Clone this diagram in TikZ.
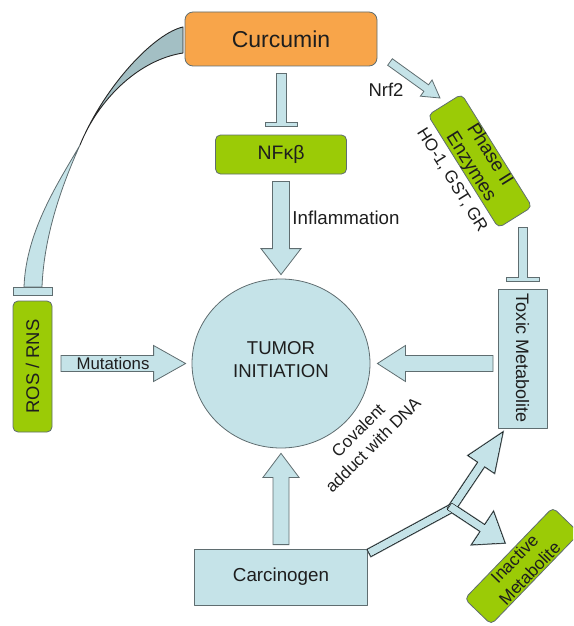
\documentclass[tikz,border=0pt]{standalone}
\usepackage{fontspec}
\setmainfont{Liberation Sans}
\usetikzlibrary{calc}
\usetikzlibrary{shapes.geometric}
\definecolor{curorange}{HTML}{F8A54A}
\definecolor{leafgreen}{HTML}{9BCB06}
\definecolor{paleblue}{HTML}{C5E3E8}
\definecolor{wedgeblue}{HTML}{A3BFC4}
\definecolor{edgegrey}{HTML}{5F6D70}
\definecolor{inkgrey}{HTML}{1E1E1E}
\newcommand{\blockarrow}[6][blockarr]{%
  \path (#3) coordinate (ba-tip) ($(#3)!#5!(#2)$) coordinate (ba-base);
  \draw[#1] ($(#2)!#4!90:(#3)$) -- ($(ba-base)!#4!90:(ba-tip)$)
    -- ($(ba-base)!#6!90:(ba-tip)$) -- (ba-tip) -- ($(ba-base)!#6!-90:(ba-tip)$)
    -- ($(ba-base)!#4!-90:(ba-tip)$) -- ($(#2)!#4!-90:(#3)$) -- cycle;}
\newcommand{\inhibit}[5]{%
  \path (#2) coordinate (ih-end) ($(#2)!#5!(#1)$) coordinate (ih-base);
  \draw[blockarr] ($(#1)!#3!90:(#2)$) -- ($(ih-base)!#3!90:(ih-end)$)
    -- ($(ih-base)!#4!90:(ih-end)$) -- ($(ih-end)!#4!-90:(ih-base)$)
    -- ($(ih-end)!#4!90:(ih-base)$) -- ($(ih-base)!#4!-90:(ih-end)$)
    -- ($(ih-base)!#3!-90:(ih-end)$) -- ($(#1)!#3!-90:(#2)$) -- cycle;}
\newcommand{\yarrow}[1]{%
  \draw[#1] ($(y-s)!4pt!90:(y-j)$) -- ($(y-j)!4pt!-90:(y-s)$)
    -- ($(y-j)!4pt!90:(y-s)$) -- ($(y-s)!4pt!-90:(y-j)$) -- cycle;
  \blockarrow[#1]{y-ua}{y-ue}{4pt}{39pt}{16pt}
  \blockarrow[#1]{y-la}{y-le}{4pt}{27pt}{20pt}}

\begin{document}
\begin{tikzpicture}[line cap=round,line join=round,x=1pt,y=-1pt,
  box/.style={draw=edgegrey,line width=0.8pt,text=inkgrey,align=center,inner sep=0pt},
  greenbox/.style={box,fill=leafgreen,rounded corners=5pt},
  bluebox/.style={box,fill=paleblue},
  blockarr/.style={draw=edgegrey,line width=0.8pt,fill=paleblue,line join=miter},
  yline/.style={draw=edgegrey,line width=1.6pt,line join=miter},
  yfill/.style={fill=paleblue},
  wedge/.style={draw=black!85,line width=0.9pt,fill=wedgeblue},
  txt/.style={text=inkgrey,inner sep=0pt,align=center}]
\path[use as bounding box] (0,0) rectangle (573,626);
\clip (0,0) rectangle (573,626);
\draw[wedge] (183,27) .. controls (155,33) and (105,85) .. (80,145) .. controls (98,100) and (138,60) .. (183,53) -- cycle;
\draw[blockarr,line join=round] (80,145) .. controls (60,180) and (26,230) .. (24,287) -- (42,287) .. controls (44,235) and (62,185) .. (80,145) -- cycle;
\draw[blockarr] (13,287) rectangle (52,295);
\node[box,fill=curorange,rounded corners=8pt,minimum width=192pt,minimum height=54pt,font=\fontsize{23}{27}\selectfont] (cur) at (281,39) {Curcumin};
\node[greenbox,minimum width=131pt,minimum height=39pt,font=\fontsize{19.5}{23}\selectfont] (nfkb) at (281,154.5) {NFκβ};
\node[box,ellipse,fill=paleblue,minimum width=178pt,minimum height=169pt,text depth=8pt,font=\fontsize{18.6}{23}\selectfont] (tumor) at (281,363.5) {TUMOR\\INITIATION};
\node[greenbox,rotate=90,minimum width=131pt,minimum height=39pt,font=\fontsize{18.4}{22}\selectfont] (ros) at (32.5,366.5) {ROS / RNS};
\node[bluebox,rotate=-90,minimum width=139pt,minimum height=49pt,font=\fontsize{18}{22}\selectfont] (toxic) at (522.5,358.5) {Toxic Metabolite};
\node[bluebox,minimum width=173pt,minimum height=56pt,font=\fontsize{18.8}{22}\selectfont] (carc) at (281,577) {Carcinogen};
\coordinate (cn-s) at ([yshift=-7pt]cur.south);
\coordinate (cn-e) at ([yshift=8pt]nfkb.north);
\inhibit{cn-s}{cn-e}{5pt}{16pt}{4pt}
\coordinate (inf-s) at ([yshift=-7pt]nfkb.south);
\coordinate (inf-e) at ([yshift=4pt]tumor.north);
\blockarrow{inf-s}{inf-e}{8.5pt}{26pt}{20pt}
\coordinate (mut-s) at (61,363.5);
\coordinate (mut-e) at ([xshift=-6pt]tumor.west);
\blockarrow{mut-s}{mut-e}{8pt}{32pt}{18pt}
\coordinate (tox-s) at (493,363.5);
\coordinate (tox-e) at ([xshift=7pt]tumor.east);
\blockarrow{tox-s}{tox-e}{8pt}{28pt}{18pt}
\coordinate (car-s) at ([yshift=4pt]carc.north);
\coordinate (car-e) at ([yshift=-5pt]tumor.south);
\blockarrow{car-s}{car-e}{8pt}{24pt}{18pt}
\coordinate (nrf-s) at (390,62);
\coordinate (nrf-e) at (440,98);
\blockarrow{nrf-s}{nrf-e}{4pt}{17pt}{10pt}
\coordinate (pt-s) at (523,227);
\coordinate (pt-e) at (523,281);
\inhibit{pt-s}{pt-e}{4.5pt}{16.5pt}{4pt}
\coordinate (y-s) at (369,553);
\coordinate (y-j) at (454.6,506.6);
\coordinate (y-ua) at (450.3,510.5);
\coordinate (y-ue) at (503,432);
\coordinate (y-la) at (449.5,506.3);
\coordinate (y-le) at (505,543);
\yarrow{yline}
\yarrow{yfill}
\node[greenbox,rotate=-58,minimum width=133pt,minimum height=38pt,font=\fontsize{19}{22}\selectfont] (phase) at (480,161) {Phase II\\Enzymes};
\node[greenbox,rotate=46,minimum width=127pt,minimum height=37pt,font=\fontsize{17.3}{21}\selectfont] (inact) at (522,566) {Inactive\\Metabolite};
\node[txt,font=\fontsize{18.7}{22}\selectfont] (inflab) at (346,218) {Inflammation};
\node[txt,font=\fontsize{18.5}{22}\selectfont] (nrflab) at (386,90) {Nrf2};
\node[txt,font=\fontsize{16.8}{20}\selectfont] (mutlab) at (113,363.5) {Mutations};
\node[txt,rotate=-58,font=\fontsize{17}{20}\selectfont] (holab) at (452,180) {HO-1, GST, GR};
\node[txt,rotate=45,font=\fontsize{17}{21}\selectfont] (covlab) at (365.5,437.5) {Covalent\\adduct with DNA};
\end{tikzpicture}
\end{document}
